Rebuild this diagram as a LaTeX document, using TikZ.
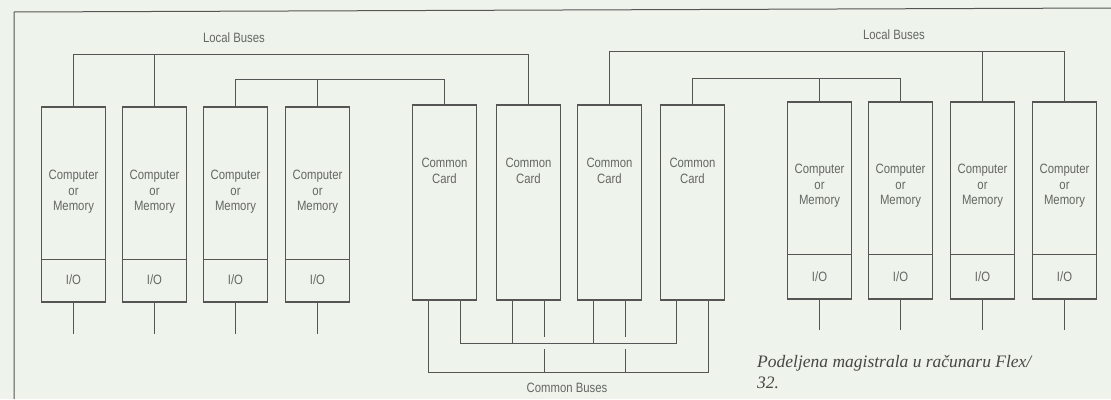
\documentclass[tikz,border=0pt]{standalone}
\usepackage{fontspec}
\setmainfont{Liberation Sans}
\newfontfamily\condfont[FakeStretch=0.84]{Liberation Sans}
\newfontfamily\capfont{Liberation Serif}
\definecolor{bg}{RGB}{238,243,235}
\definecolor{ln}{RGB}{85,85,85}
\definecolor{tx}{RGB}{100,103,100}
\definecolor{captx}{RGB}{70,70,70}
\begin{document}
\begin{tikzpicture}[x=1pt,y=-1pt,
  unit/.style={draw=ln, line width=1.1pt, minimum width=64pt, minimum height=195pt, inner sep=0pt},
  runit/.style={unit, minimum height=197pt},
  lbl/.style={text=tx, font=\condfont\fontsize{13.5}{15.5}\selectfont, align=center, inner sep=0pt},
  bus/.style={draw=ln, line width=1.1pt},
  frame/.style={draw=ln, line width=1pt}]
\fill[bg] (0,0) rectangle (1111,399);
\useasboundingbox (0,0) rectangle (1111,399);
% frame
\draw[frame] (14,399) -- (14,12) -- (1111,8);
% left units
\foreach \n/\x in {b1/73.5,b2/154.5,b3/235.5,b4/317.5} {
  \node[unit] (\n) at (\x,204.5) {};
  \node[lbl] (\n-t) at (\x,192) {Computer\\or\\Memory};
  \node[lbl] (\n-io) at (\x,280) {I/O};
  \draw[bus] ([yshift=43pt]\n.south west) -- ([yshift=43pt]\n.south east);
  \coordinate (\n-s) at (\x,334);
  \draw[bus] (\n.south) -- (\n-s);
}
% common cards
\foreach \n/\x in {c1/444.5,c2/528.5,c3/609.5,c4/692.5} {
  \node[unit] (\n) at (\x,202.5) {};
  \node[lbl] (\n-t) at (\x,171) {Common\\Card};
  \coordinate (\n L) at ([xshift=-16pt]\n.south);
  \coordinate (\n R) at ([xshift=16pt]\n.south);
}
% right units
\foreach \n/\x in {r1/819.5,r2/900.5,r3/982.5,r4/1064.5} {
  \node[runit] (\n) at (\x,200.5) {};
  \node[lbl] (\n-t) at (\x,186) {Computer\\or\\Memory};
  \node[lbl] (\n-io) at (\x,277) {I/O};
  \draw[bus] ([yshift=45pt]\n.south west) -- ([yshift=45pt]\n.south east);
  \coordinate (\n-s) at (\x,330);
  \draw[bus] (\n.south) -- (\n-s);
}
% local buses (left)
\draw[bus] (b1.north) -- (b1.north |- 0,54.5) -- (c2.north |- 0,54.5) -- (c2.north);
\draw[bus] (b2.north) -- (b2.north |- 0,54.5);
\draw[bus] (b3.north) -- (b3.north |- 0,79.5) -- (c1.north |- 0,79.5) -- (c1.north);
\draw[bus] (b4.north) -- (b4.north |- 0,79.5);
% local buses (right)
\draw[bus] (c3.north) -- (c3.north |- 0,51.5) -- (r4.north |- 0,51.5) -- (r4.north);
\draw[bus] (r3.north) -- (r3.north |- 0,51.5);
\draw[bus] (c4.north) -- (c4.north |- 0,78.5) -- (r2.north |- 0,78.5) -- (r2.north);
\draw[bus] (r1.north) -- (r1.north |- 0,78.5);
% common buses
\draw[bus] (c1R) -- (c1R |- 0,343.5) -- (c4L |- 0,343.5) -- (c4L);
\draw[bus] (c2L) -- (c2L |- 0,343.5);
\draw[bus] (c3L) -- (c3L |- 0,343.5);
\draw[bus] (c1L) -- (c1L |- 0,372.5) -- (c4R |- 0,372.5) -- (c4R);
\draw[bus] (c2R) -- (c2R |- 0,337);
\draw[bus] (c2R |- 0,349) -- (c2R |- 0,372.5);
\draw[bus] (c3R) -- (c3R |- 0,337);
\draw[bus] (c3R |- 0,349) -- (c3R |- 0,372.5);
% labels
\node[lbl] (lb1) at (234,38) {Local Buses};
\node[lbl] (lb2) at (894,35) {Local Buses};
\node[lbl] (cb) at (567,388) {Common Buses};
\node[anchor=west, inner sep=0pt, align=left, text=captx,
  font=\capfont\itshape\fontsize{17.5}{21}\selectfont] (cap) at (757,372.5)
  {Podeljena magistrala u računaru Flex/\\32.};
\end{tikzpicture}
\end{document}
